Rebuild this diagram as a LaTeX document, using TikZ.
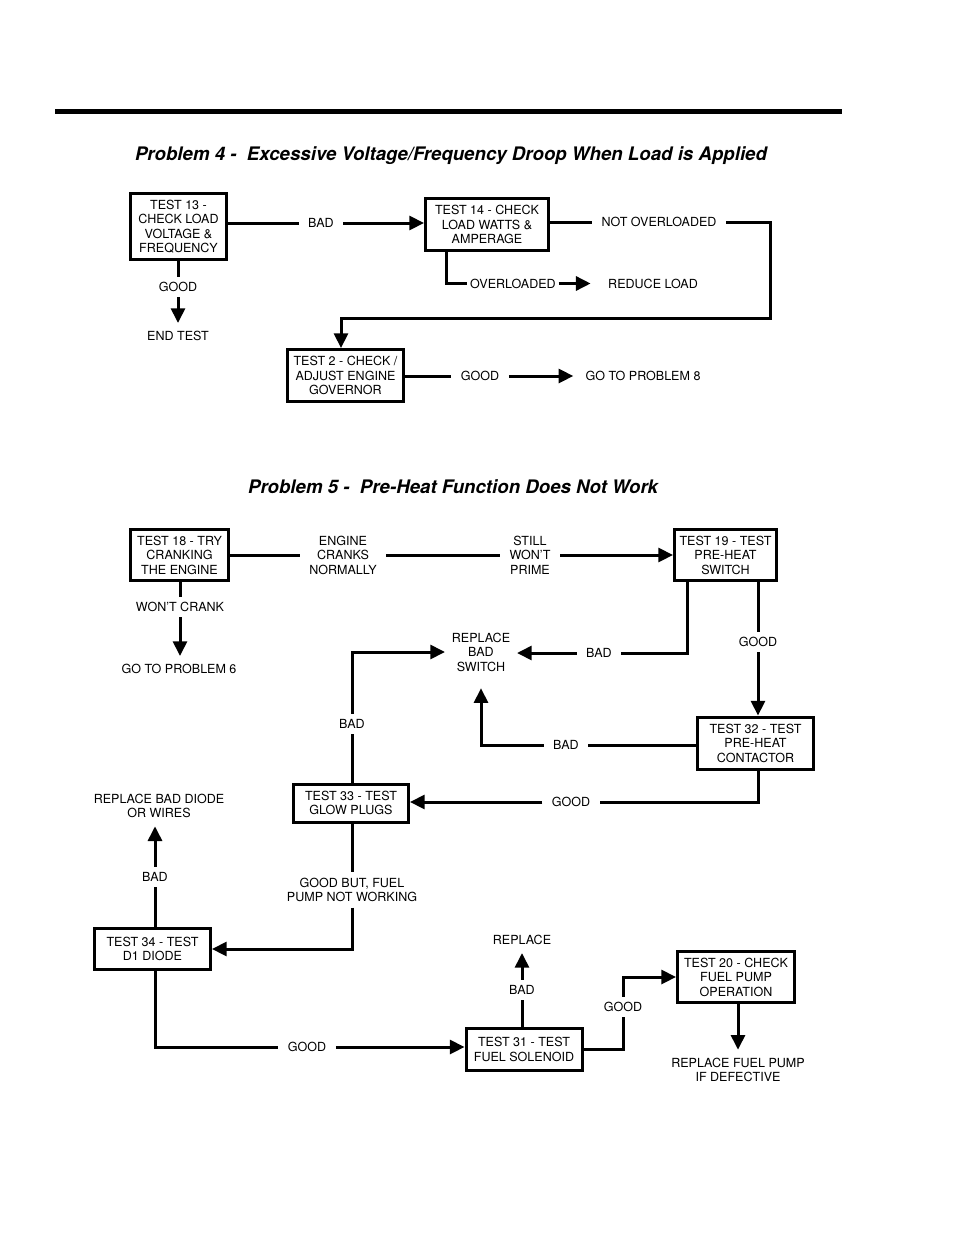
\documentclass[tikz,border=0pt]{standalone}
\usepackage{fontspec}
\setmainfont{TeX Gyre Heros}
\usetikzlibrary{arrows.meta,calc}

\begin{document}
\begin{tikzpicture}[x=0.75pt,y=-0.75pt,
    every node/.style={font=\fontsize{9.4}{10.9}\selectfont, align=center},
    testbox/.style={rectangle, draw, line width=2.25pt, inner sep=0pt},
    lbl/.style={inner xsep=7pt, inner ysep=4pt},
    txt/.style={inner sep=6pt},
    conn/.style={line width=2.25pt},
    arr/.style={line width=2.25pt, -{Triangle[length=11pt,width=10.5pt]}},
    heading/.style={font=\fontsize{14}{16}\selectfont\bfseries\itshape}]
  \useasboundingbox (0,0) rectangle (954,1235);
  \draw[line width=3.75pt] (55,111) -- (842,111);

  \node[heading] (title4) at (451,156) {Problem 4 -\ \ Excessive Voltage/Frequency Droop When Load is Applied};
  \node[heading] (title5) at (453,487) {Problem 5 -\ \ Pre-Heat Function Does Not Work};

  \node[testbox, minimum width=72pt, minimum height=49.5pt] (t13) at (178.5,226.5) {TEST 13 -\\CHECK LOAD\\VOLTAGE \&\\FREQUENCY};
  \node[testbox, minimum width=92.25pt, minimum height=39pt] (t14) at (487,224.5) {TEST 14 - CHECK\\LOAD WATTS \&\\AMPERAGE};
  \node[testbox, minimum width=87pt, minimum height=39pt] (t2) at (345.5,375.5) {TEST 2 - CHECK /\\ADJUST ENGINE\\GOVERNOR};

  \node[lbl] (bad13) at (321,223) {BAD};
  \node[lbl] (good13) at (178,287) {GOOD};
  \node[txt] (endtest) at (178,336) {END TEST};
  \node[lbl] (notover) at (659,222) {NOT OVERLOADED};
  \node[lbl, inner xsep=2pt] (over) at (513,283.5) {OVERLOADED};
  \node[txt, inner xsep=13pt] (reduce) at (653,283.5) {REDUCE LOAD};
  \node[lbl] (good2) at (480,376) {GOOD};
  \node[txt, inner xsep=9pt] (prob8) at (643,376) {GO TO PROBLEM 8};
  \coordinate (turn14) at (770,318);

  \draw[conn] (t13.east |- bad13) -- (bad13);
  \draw[arr] (bad13) -- (t14.west |- bad13);
  \draw[conn] (t13.south -| good13) -- (good13);
  \draw[arr] (good13) -- (endtest);
  \draw[conn] (t14.east |- notover) -- (notover);
  \draw[arr] (notover) -| (turn14) -| ($(t2.north)+(-4.5,0)$);
  \draw[conn] ($(t14.south west)+(22.5,0)$) |- (over);
  \draw[arr] (over) -- (reduce);
  \draw[conn] (t2.east |- good2) -- (good2);
  \draw[arr] (good2) -- (prob8);

  \node[testbox, minimum width=73.5pt, minimum height=38.25pt] (t18) at (179.5,555) {TEST 18 - TRY\\CRANKING\\THE ENGINE};
  \node[testbox, minimum width=76.5pt, minimum height=38.25pt] (t19) at (725.5,555) {TEST 19 - TEST\\PRE-HEAT\\SWITCH};
  \node[testbox, minimum width=87pt, minimum height=39pt] (t32) at (755.5,743) {TEST 32 - TEST\\PRE-HEAT\\CONTACTOR};
  \node[testbox, minimum width=86.25pt, minimum height=28.5pt] (t33) at (351,803) {TEST 33 - TEST\\GLOW PLUGS};
  \node[testbox, minimum width=87pt, minimum height=30.75pt] (t34) at (152.5,949) {TEST 34 - TEST\\D1 DIODE};
  \node[testbox, minimum width=87pt, minimum height=31pt] (t31) at (524,1049.5) {TEST 31 - TEST\\FUEL SOLENOID};
  \node[testbox, minimum width=87.75pt, minimum height=38.25pt] (t20) at (736,977) {TEST 20 - CHECK\\FUEL PUMP\\OPERATION};

  \node[lbl] (cranks) at (343,555) {ENGINE\\CRANKS\\NORMALLY};
  \node[lbl] (noprime) at (530,555) {STILL\\WON'T\\PRIME};
  \node[lbl] (wontcrank) at (180,607) {WON'T CRANK};
  \node[txt] (prob6) at (179,669) {GO TO PROBLEM 6};
  \node[txt, inner xsep=5pt, minimum height=54pt] (repswitch) at (481,652) {REPLACE\\BAD\\SWITCH};
  \node[lbl] (bad19) at (599,653) {BAD};
  \node[lbl] (good19) at (758,642) {GOOD};
  \node[lbl] (bad32) at (566,745) {BAD};
  \node[lbl] (good32) at (571,802) {GOOD};
  \node[lbl] (bad33) at (352,724) {BAD};
  \node[lbl] (goodbut) at (352,890) {GOOD BUT, FUEL\\PUMP NOT WORKING};
  \node[lbl] (bad34) at (155,877) {BAD};
  \node[txt] (repdiode) at (159,806) {REPLACE BAD DIODE\\OR WIRES};
  \node[lbl] (good34) at (307,1047) {GOOD};
  \node[lbl] (bad31) at (522,990) {BAD};
  \node[txt] (rep31) at (522,940) {REPLACE};
  \node[lbl] (good31) at (623,1007) {GOOD};
  \node[txt] (repfuel) at (738,1070) {REPLACE FUEL PUMP\\IF DEFECTIVE};

  \draw[conn] (t18.east |- cranks) -- (cranks);
  \draw[conn] (cranks) -- (noprime);
  \draw[arr] (noprime) -- (t19.west |- noprime);
  \draw[conn] (t18.south -| wontcrank) -- (wontcrank);
  \draw[arr] (wontcrank) -- (prob6.north -| wontcrank);
  \draw[conn] ($(t19.south west)+(14.5,0)$) |- (bad19);
  \draw[arr] (bad19) -- (repswitch.east |- bad19);
  \draw[conn] (t19.south -| good19) -- (good19);
  \draw[arr] (good19) -- (t32.north -| good19);
  \draw[conn] (t32.west |- bad32) -- (bad32);
  \draw[arr] (bad32) -| (repswitch.south);
  \draw[conn] (t32.south -| good19) |- (good32);
  \draw[arr] (good32) -- (t33.east |- good32);
  \draw[conn] (t33.north -| bad33) -- (bad33);
  \draw[arr] (bad33) |- (repswitch.west);
  \draw[conn] (t33.south -| goodbut) -- (goodbut);
  \draw[arr] (goodbut) |- (t34.east);
  \draw[conn] (t34.north -| bad34) -- (bad34);
  \draw[arr] (bad34) -- (repdiode.south -| bad34);
  \draw[conn] (t34.south -| bad34) |- (good34);
  \draw[arr] (good34) -- (t31.west |- good34);
  \draw[conn] (t31.north -| bad31) -- (bad31);
  \draw[arr] (bad31) -- (rep31);
  \draw[conn] (t31) -| (good31);
  \draw[arr] (good31) |- (t20.west);
  \draw[arr] (t20.south -| repfuel) -- (repfuel);
\end{tikzpicture}
\end{document}
